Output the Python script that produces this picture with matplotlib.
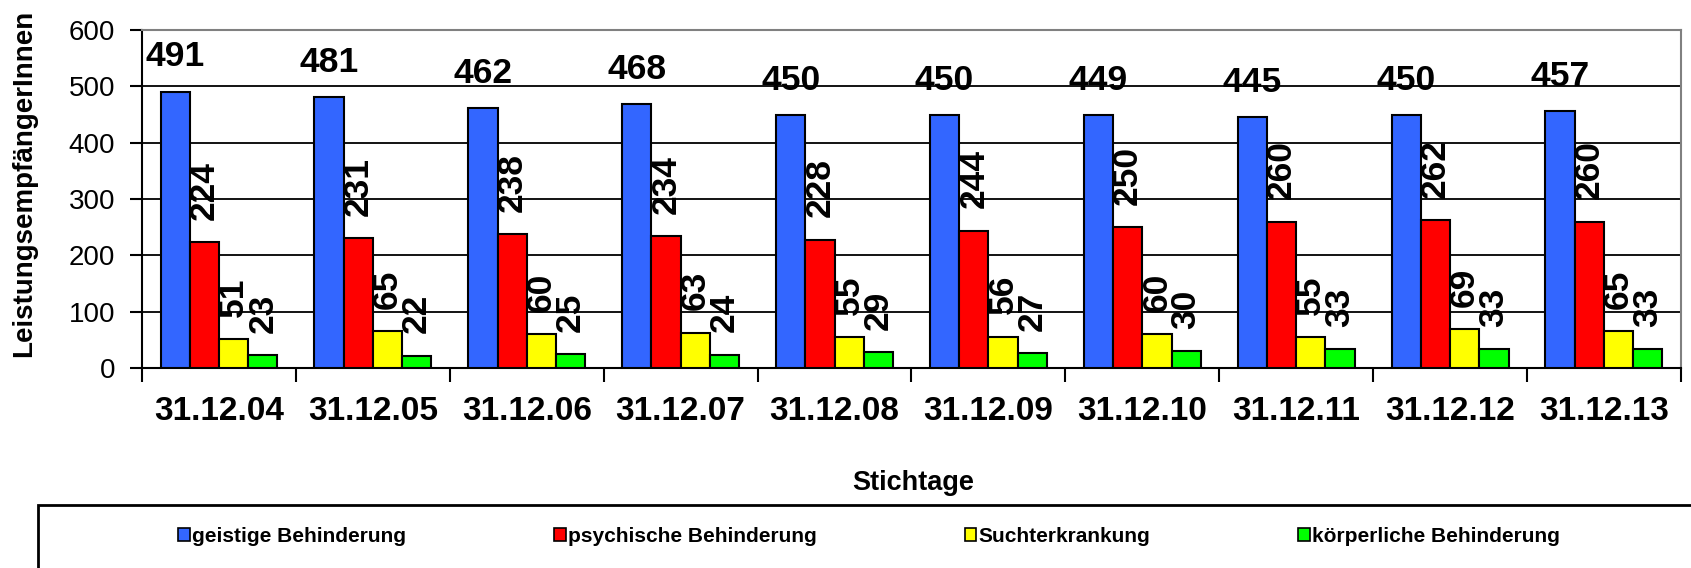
# -*- coding:utf-8 -*-
# grouped bar chart: LeistungsempfaengerInnen nach Behinderungsart und Stichtag

import matplotlib.pyplot as plt
from matplotlib.patches import Patch, Rectangle
import numpy as np

plt.rcParams['font.family'] = ['Liberation Sans', 'DejaVu Sans']

# data
stichtage = ['31.12.04', '31.12.05', '31.12.06', '31.12.07', '31.12.08',
             '31.12.09', '31.12.10', '31.12.11', '31.12.12', '31.12.13']
geistige = [491, 481, 462, 468, 450, 450, 449, 445, 450, 457]
psychische = [224, 231, 238, 234, 228, 244, 250, 260, 262, 260]
sucht = [51, 65, 60, 63, 55, 56, 60, 55, 69, 65]
koerperliche = [23, 22, 25, 24, 29, 27, 30, 33, 33, 33]
series_names = ['geistige Behinderung', 'psychische Behinderung',
                'Suchterkrankung', 'körperliche Behinderung']
colors = ['#3366FF', '#FF0000', '#FFFF00', '#00FF00']

series = [geistige, psychische, sucht, koerperliche]
x = np.arange(len(stichtage))
w = 0.19

fig = plt.figure(figsize=(16.91, 5.68), dpi=100)
ax = fig.add_axes([0.084, 0.352, 0.910, 0.595])

for i, vals in enumerate(series):
    pos = x + (i - 1.5) * w
    ax.bar(pos, vals, width=w, color=colors[i], edgecolor='black',
           linewidth=1.5, zorder=3)
    for xp, v in zip(pos, vals):
        if i == 0:
            ax.annotate(str(v), (xp, v), xytext=(0, 13), textcoords='offset points',
                        ha='center', va='bottom', fontsize=25.5, fontweight='bold')
        else:
            ax.annotate(str(v), (xp, v), xytext=(0, 16), textcoords='offset points',
                        ha='center', va='bottom', rotation=90,
                        fontsize=25.5, fontweight='bold')

ax.set_xlim(-0.5, len(stichtage) - 0.5)
ax.set_ylim(0, 600)
ax.set_yticks(range(0, 601, 100))
ax.tick_params(axis='y', labelsize=20, length=9, width=1.5, pad=10.5, direction='out')
ax.set_xticks(x)
ax.set_xticklabels(stichtage, fontsize=24, fontweight='bold')
ax.tick_params(axis='x', which='major', length=0, pad=20)
ax.set_xticks(np.arange(-0.5, len(stichtage), 1), minor=True)
ax.tick_params(axis='x', which='minor', length=10, width=1.5, direction='out')

ax.yaxis.grid(True, color='black', linewidth=1.3)
ax.set_axisbelow(True)
for s in ['left', 'bottom']:
    ax.spines[s].set_color('black')
    ax.spines[s].set_linewidth(1.5)
for s in ['top', 'right']:
    ax.spines[s].set_color('#808080')
    ax.spines[s].set_linewidth(1.5)

ax.set_ylabel('LeistungsempfängerInnen', fontsize=20, fontweight='bold')
ax.yaxis.set_label_coords(-0.068, 0.546)
fig.text(0.54, 0.15, 'Stichtage', fontsize=19.5, fontweight='bold',
         ha='center', va='center')

# legend box
fig.patches.append(Rectangle((38 / 1691, -0.2), 2, 0.2 + (568 - 505) / 568,
                             fill=False, edgecolor='black', linewidth=2,
                             transform=fig.transFigure, figure=fig))
handles = [Patch(facecolor=c, edgecolor='black', linewidth=1.2) for c in colors]
fig.legend(handles, series_names, ncol=4, loc='center', bbox_to_anchor=(0.514, 0.056),
           frameon=False, prop={'weight': 'bold', 'size': 15},
           handlelength=0.55, handleheight=0.55, handletextpad=0.12, columnspacing=7.1)

plt.savefig('out.png', dpi=100)
